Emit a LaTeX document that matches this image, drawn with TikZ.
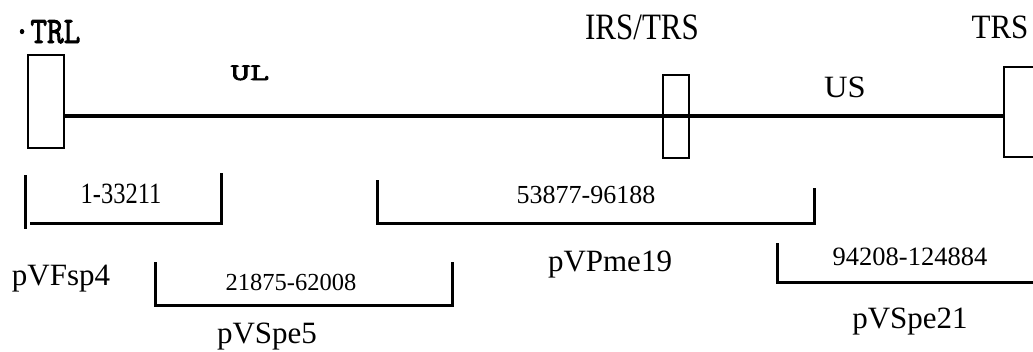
\documentclass[tikz,border=0pt]{standalone}
\usepackage{fontspec}
\setmainfont{Liberation Serif}
\newfontfamily\monob{Latin Modern Mono}[FakeBold=2.5]
\begin{document}
\begin{tikzpicture}[x=1pt,y=-1pt,
  line width=3pt,
  repeat/.style={draw, line width=2.6pt, fill=white, inner sep=0pt},
  big/.style={inner sep=0pt, anchor=base, font=\fontsize{31}{31}\selectfont},
  small/.style={inner sep=0pt, anchor=base, font=\fontsize{24.5}{24.5}\selectfont},
  mono/.style={inner sep=0pt, anchor=base, font=\monob\fontsize{34}{34}\selectfont},
  span/.style={line width=3pt, line cap=butt}]
\clip (0,0) rectangle (1033,351);
\fill[white] (0,0) rectangle (1033,351);

% terminal and internal repeat boxes
\node[repeat, minimum width=36pt, minimum height=93pt] (trl) at (46,101.5) {};
\node[repeat, minimum width=26pt, minimum height=83pt] (irs) at (676,116.5) {};
\node[repeat, minimum width=60pt, minimum height=90pt] (trs) at (1034,112) {};

% genome backbone (runs through the IRS box)
\draw[line width=3.4pt] (trl.east |- 0,116) -- (trs.west |- 0,116);
\node[repeat, minimum width=26pt, minimum height=83pt, fill=none] at (irs) {};

% region labels
\node[mono] (tTRL) at (47,43) {\scalebox{0.95}[1.1]{·TRL}};
\node[mono, font=\monob\fontsize{25}{25}\selectfont] (tUL) at (250,80) {\scalebox{1.5}[0.95]{UL}};
\node[big] (tIRS) at (642,39) {\scalebox{1}[1.2]{IRS/TRS}};
\node[big] (tUS) at (845,97) {\scalebox{1.05}[1]{US}};
\node[big] (tTRS) at (1000,38) {\scalebox{1}[1.1]{TRS}};

% clone spans
\coordinate (a1) at (25,175); \coordinate (a2) at (25,229);
\coordinate (a3) at (30,223); \coordinate (a4) at (221,223); \coordinate (a5) at (221,173);
\draw[span] (a1) -- (a2);
\draw[span] (a3) -- (a4) -- (a5);
\node[small] (n1) at (121,203) {\scalebox{1}[1.2]{1-33211}};
\node[big] (c1) at (61,285) {pVFsp4};

\coordinate (b1) at (155,262); \coordinate (b2) at (155,305);
\coordinate (b3) at (452,305); \coordinate (b4) at (452,262);
\draw[span] (b1) -- (b2) -- (b3) -- (b4);
\node[small] (n2) at (291,290) {21875-62008};
\node[big] (c2) at (267,343) {pVSpe5};

\coordinate (d1) at (377,180); \coordinate (d2) at (377,223);
\coordinate (d3) at (814,223); \coordinate (d4) at (814,188);
\draw[span] (d1) -- (d2) -- (d3) -- (d4);
\node[small, font=\fontsize{26}{26}\selectfont] (n3) at (586,203) {53877-96188};
\node[big] (c3) at (610,271) {pVPme19};

\coordinate (e1) at (777,243); \coordinate (e2) at (777,282);
\coordinate (e3) at (1040,282);
\draw[span] (e1) -- (e2) -- (e3);
\node[small, font=\fontsize{26.5}{26.5}\selectfont] (n4) at (910,265) {94208-124884};
\node[big] (c4) at (910,328) {pVSpe21};
\end{tikzpicture}
\end{document}
